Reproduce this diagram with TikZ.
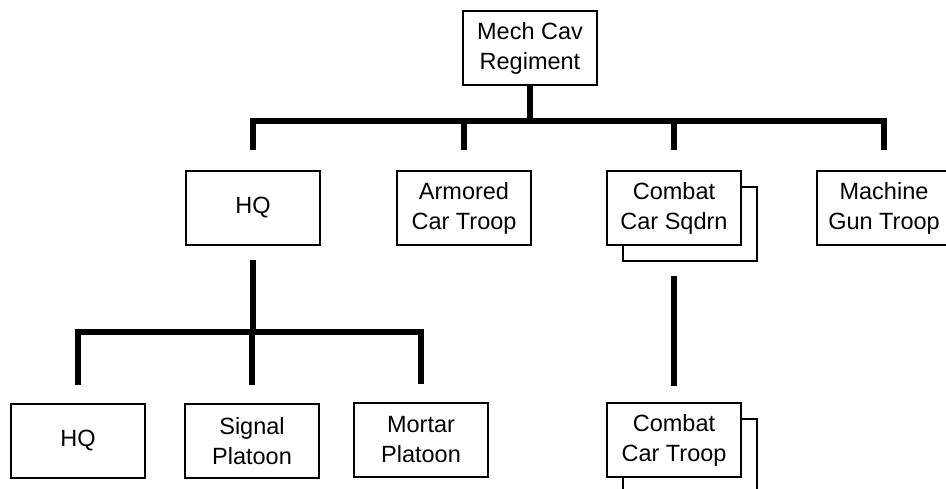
\documentclass[tikz,border=0pt]{standalone}
\usepackage{fontspec}
\setmainfont{Liberation Sans}
\usetikzlibrary{positioning,shadows}

\begin{document}
\begin{tikzpicture}[x=1pt,y=-1pt,
  unit/.style={draw,line width=1.9pt,fill=white,minimum width=134pt,minimum height=74pt,align=center,inner sep=2pt,font=\fontsize{23.5}{30}\selectfont},
  stacked/.style={unit,copy shadow={shadow xshift=16pt,shadow yshift=-16pt}},
  bus/.style={line width=5.8pt}]
\useasboundingbox (0,0) rectangle (946,489);
\node[unit] (reg) at (530,48) {Mech Cav\\Regiment};
\node[unit] (hq) at (253,208) {HQ};
\node[unit] (arm) at (464,208) {Armored\\Car Troop};
\node[stacked] (sqd) at (674,208) {Combat\\Car Sqdrn};
\node[unit] (mg) at (884,208) {Machine\\Gun Troop};
\node[unit] (hqhq) at (78,441) {HQ};
\node[unit] (sig) at (252,441) {Signal\\Platoon};
\node[unit] (mor) at (421,440) {Mortar\\Platoon};
\node[stacked] (trp) at (674,440) {Combat\\Car Troop};
% regiment bus
\coordinate (bus1) at (reg.south |- 0,121);
\draw[bus] (reg.south) -- (bus1);
\draw[bus] ([yshift=20pt]hq.north) |- (bus1) -| ([yshift=20pt]mg.north);
\draw[bus] ([yshift=20pt]arm.north) -- (arm.north |- bus1);
\draw[bus] ([yshift=20pt]sqd.north) -- (sqd.north |- bus1);
% HQ bus
\coordinate (bus2) at (hq.south |- 0,332);
\draw[bus] ([yshift=-14pt]hq.south) -- (bus2);
\draw[bus] ([yshift=18pt]hqhq.north) |- (bus2) -| ([yshift=18pt]mor.north);
\draw[bus] ([yshift=18pt]sig.north) -- (sig.north |- bus2);
% squadron to troops
\draw[bus] ([yshift=-30pt]sqd.south) -- ([yshift=16pt]trp.north);
\end{tikzpicture}
\end{document}
